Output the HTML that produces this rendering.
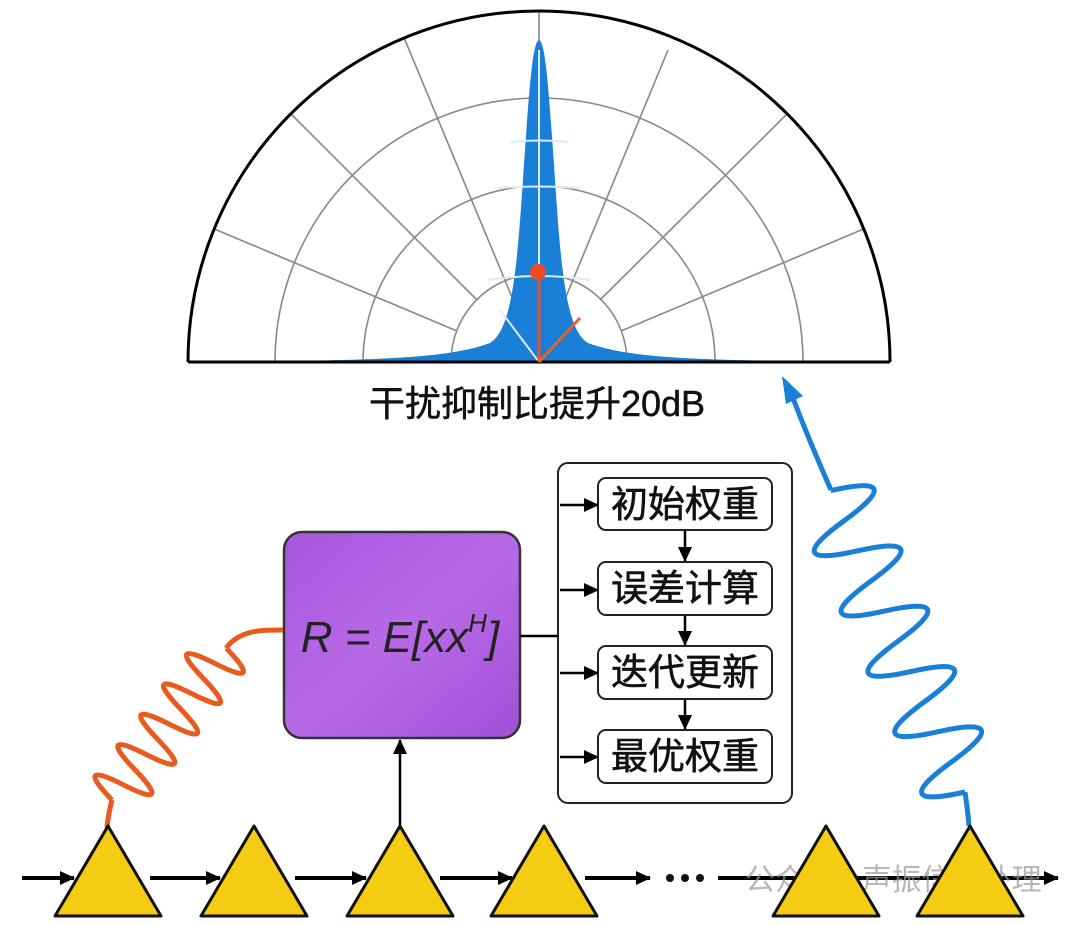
<!DOCTYPE html>
<html><head><meta charset="utf-8"><style>
html,body{margin:0;padding:0;background:#fff;}
svg{display:block;}
</style></head><body>
<svg width="1080" height="925" viewBox="0 0 1080 925" xmlns="http://www.w3.org/2000/svg">
<defs>
<marker id="ah" markerWidth="16" markerHeight="16" refX="14" refY="8" orient="auto" markerUnits="userSpaceOnUse"><path d="M0,1 L15,8 L0,15 z" fill="#000"/></marker>
<linearGradient id="pg" x1="0" y1="0" x2="1" y2="1"><stop offset="0" stop-color="#a855dd"/><stop offset="0.5" stop-color="#b86ae6"/><stop offset="1" stop-color="#a050d8"/></linearGradient>
<clipPath id="half"><path d="M188,362 A351,351 0 0 1 890,362 Z"/></clipPath>
</defs>
<rect width="1080" height="925" fill="#fff"/>

<g stroke="#888" stroke-width="1.6" fill="none">
  <path d="M275,362 A264,264 0 0 1 803,362"/>
  <path d="M363,362 A176,176 0 0 1 715,362"/>
  <path d="M451,362 A88,88 0 0 1 627,362"/>
  <g clip-path="url(#half)">
  <line x1="457" y1="331" x2="212" y2="228"/>
  <line x1="477" y1="300" x2="290" y2="113"/>
  <line x1="539" y1="362" x2="380" y2="-20"/>
  <line x1="539" y1="362" x2="539" y2="0"/>
  <line x1="600" y1="300" x2="788" y2="113"/>
  <line x1="621" y1="331" x2="866" y2="228"/>
  <line x1="539" y1="362" x2="668" y2="50"/>
  </g>
  <line x1="380" y1="-20" x2="387" y2="0"/>
</g>
<path d="M275,361 C400,360 455,356 490,343 C515,328 518,250 525,150 C530,80 533,42 539,40 C545,42 548,80 553,150 C560,250 563,328 588,343 C623,356 678,360 803,361 Z" fill="#1a7fd6"/>
<g stroke="#d8ecff" stroke-width="2" fill="none">
  <line x1="539" y1="50" x2="539" y2="362"/>
  <path d="M510,142 Q539,139 568,142"/>
  <path d="M498,188 Q539,185 580,188"/>
  <path d="M488,280 Q539,272 590,280"/>
  <line x1="539" y1="362" x2="500" y2="310"/>
</g>
<line x1="188" y1="362" x2="890" y2="362" stroke="#000" stroke-width="3"/>
<path d="M188,362 A351,351 0 0 1 890,362" fill="none" stroke="#000" stroke-width="3"/>
<line x1="539" y1="272" x2="539" y2="362" stroke="#e8502a" stroke-width="3"/>
<line x1="539" y1="362" x2="580" y2="318" stroke="#e8602a" stroke-width="3"/>
<circle cx="538" cy="272" r="8" fill="#f04a22"/>

<text x="537" y="416" text-anchor="middle" font-family="'Liberation Sans','Noto Sans CJK SC',sans-serif" font-size="36" fill="#111" stroke="#111" stroke-width="0.5">干扰抑制比提升20dB</text>

<rect x="284" y="532" width="236" height="206" rx="18" fill="url(#pg)" stroke="#333" stroke-width="2.5"/>
<text x="400" y="652" text-anchor="middle" font-family="'Liberation Sans',sans-serif" font-style="italic" font-size="44" fill="#222">R = E[xx<tspan font-size="26" dy="-20">H</tspan><tspan dy="20">]</tspan></text>
<line x1="520" y1="636" x2="558" y2="636" stroke="#000" stroke-width="2.5"/>

<rect x="558" y="463" width="234" height="340" rx="10" fill="#fff" stroke="#222" stroke-width="2"/>
<g font-family="'Liberation Sans','Noto Sans CJK SC',sans-serif" font-size="37" fill="#111" stroke="#111" stroke-width="0.6" text-anchor="middle">
<rect x="598" y="478" width="174" height="52" rx="8" fill="#fff" stroke="#222" stroke-width="2"/>
<text x="685" y="517">初始权重</text>
<rect x="598" y="562" width="174" height="53" rx="8" fill="#fff" stroke="#222" stroke-width="2"/>
<text x="685" y="601">误差计算</text>
<rect x="598" y="646" width="174" height="53" rx="8" fill="#fff" stroke="#222" stroke-width="2"/>
<text x="685" y="685">迭代更新</text>
<rect x="598" y="730" width="174" height="53" rx="8" fill="#fff" stroke="#222" stroke-width="2"/>
<text x="685" y="769">最优权重</text>
</g>
<g stroke="#000" stroke-width="2.5" marker-end="url(#ah)">
<line x1="560" y1="505" x2="598" y2="505"/>
<line x1="560" y1="590" x2="598" y2="590"/>
<line x1="560" y1="673" x2="598" y2="673"/>
<line x1="560" y1="757" x2="598" y2="757"/>
<line x1="685" y1="531" x2="685" y2="561"/>
<line x1="685" y1="616" x2="685" y2="645"/>
<line x1="685" y1="700" x2="685" y2="729"/>
<line x1="400" y1="826" x2="400" y2="740"/>
</g>

<path d="M107,828 C108,815 110,808 112,800" fill="none" stroke="#e85a1e" stroke-width="5"/>
<g transform="translate(112,800) rotate(-53)">
<path d="M0,0 q9,-56 19,0 t19,0 t19,0 t19,0 t19,0 t19,0 t19,0 t19,0 t19,0 t19,0" fill="none" stroke="#e85a1e" stroke-width="5"/>
</g>
<path d="M226,648 C240,630 260,630 283,630" fill="none" stroke="#e85a1e" stroke-width="5"/>

<path d="M969,826 C968,812 966,800 965,792" fill="none" stroke="#1a7fd6" stroke-width="5"/>
<g transform="translate(965,792) rotate(-114)">
<path d="M0,0 q16,-80 33,0 t33,0 t33,0 t33,0 t33,0 t33,0 t33,0 t33,0 t33,0 t33,0" fill="none" stroke="#1a7fd6" stroke-width="5"/>
</g>
<path d="M831,490 C820,465 805,430 793,398" fill="none" stroke="#1a7fd6" stroke-width="5"/>
<path d="M782,376 L803,396 L786,404 Z" fill="#1a7fd6"/>

<g stroke="#000" stroke-width="4" marker-end="url(#ah)">
<line x1="22" y1="878" x2="74" y2="878"/>
<line x1="150" y1="878" x2="220" y2="878"/>
<line x1="295" y1="878" x2="366" y2="878"/>
<line x1="440" y1="878" x2="512" y2="878"/>
<line x1="585" y1="878" x2="650" y2="878"/>
<line x1="718" y1="878" x2="1058" y2="878"/>
</g>
<circle cx="670" cy="878" r="4" fill="#111"/><circle cx="685" cy="878" r="4" fill="#111"/><circle cx="700" cy="878" r="4" fill="#111"/>
<text x="745" y="890" font-family="'Liberation Sans','Noto Sans CJK SC',sans-serif" font-size="30" fill="#999" opacity="0.7">公众号 · 声振信号处理</text>

<g fill="#f5cc14" stroke="#111" stroke-width="3" stroke-linejoin="round">
<path d="M108,826 L55,916 L161,916 Z"/>
<path d="M254,826 L201,916 L307,916 Z"/>
<path d="M400,826 L347,916 L453,916 Z"/>
<path d="M544,826 L491,916 L597,916 Z"/>
<path d="M826,826 L773,916 L879,916 Z"/>
<path d="M970,826 L917,916 L1023,916 Z"/>
</g>
</svg>
</body></html>
